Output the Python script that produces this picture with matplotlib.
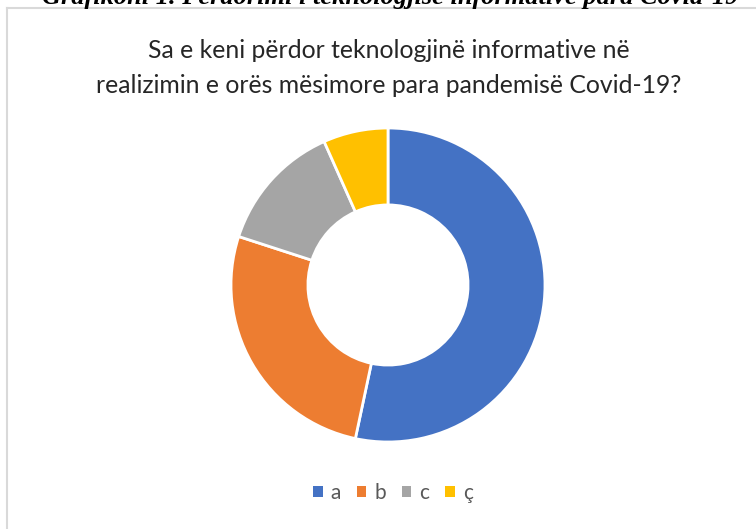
import matplotlib
matplotlib.use("Agg")
import matplotlib.pyplot as plt
from matplotlib.patches import Patch
from matplotlib.lines import Line2D

# data (share of answers)
labels = ['a', 'b', 'c', 'ç']
values = [16, 8, 4, 2]
colors = ['#4472C4', '#ED7D31', '#A5A5A5', '#FFC000']

title = 'Sa e keni përdor teknologjinë informative në\nrealizimin e orës mësimore para pandemisë Covid-19?'
caption = 'Grafikoni 1. Përdorimi i teknologjisë informative para Covid-19'

W, H = 756, 529
fig = plt.figure(figsize=(W / 100, H / 100), dpi=100)
fig.patch.set_facecolor('white')

def fx(px):
    return px / W

def fy(py):
    return 1 - py / H

# chart area border (only left and top visible, rest cut off)
fig.add_artist(Line2D([fx(7), fx(7)], [fy(8), 0], color='#D9D9D9', lw=1.5))
fig.add_artist(Line2D([fx(7), 1], [fy(8), fy(8)], color='#D9D9D9', lw=1.5))

# caption above the chart, cut at the top edge like in the source page
fig.text(fx(390), fy(4), caption, ha='center', va='baseline',
         family='Liberation Serif', weight='bold', style='italic', fontsize=19)

# title
fig.text(fx(389), fy(68), title, ha='center', va='center', family='Lato',
         fontsize=17.8, color='#262626', linespacing=1.67)

# donut
cx, cy, r = 388, 285, 157
ax = fig.add_axes([fx(cx - r), fy(cy + r), 2 * r / W, 2 * r / H])
ax.pie(values, colors=colors, startangle=90, counterclock=False, radius=1,
       wedgeprops=dict(width=0.49, edgecolor='white', linewidth=2))
ax.set_xlim(-1, 1)
ax.set_ylim(-1, 1)
ax.axis('off')

# legend
handles = [Patch(facecolor=c, edgecolor='none') for c in colors]
leg = fig.legend(handles, labels, loc='center', bbox_to_anchor=(fx(393), fy(493)),
                 ncol=4, frameon=False, handlelength=0.45, handleheight=0.45,
                 handletextpad=0.4, columnspacing=0.75,
                 prop=dict(family='Lato', size=15))
for t in leg.get_texts():
    t.set_color('#595959')

fig.savefig('out.png', dpi=100, facecolor='white')
